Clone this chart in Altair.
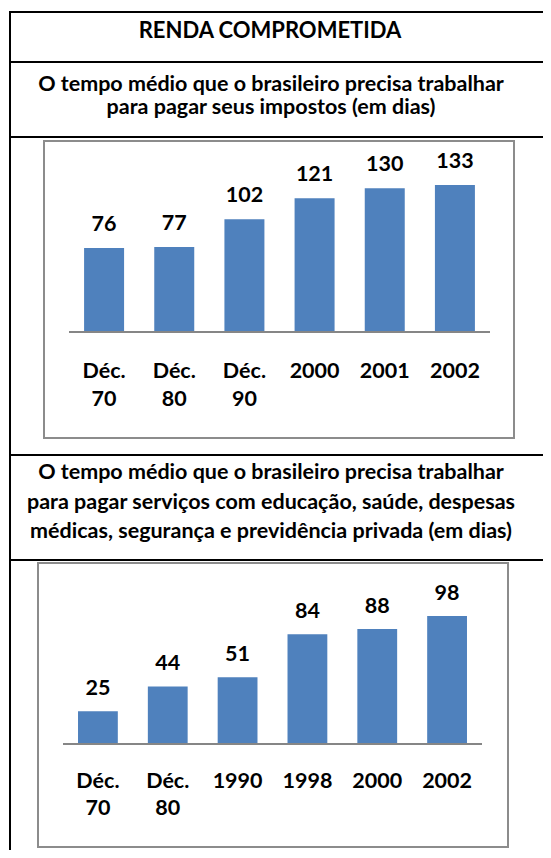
import altair as alt
import pandas as pd

# ---- data ----
cats1 = ["Déc.\n70", "Déc.\n80", "Déc.\n90", "2000", "2001", "2002"]
vals1 = [76, 77, 102, 121, 130, 133]
cats2 = ["Déc.\n70", "Déc.\n80", "1990", "1998", "2000", "2002"]
vals2 = [25, 44, 51, 84, 88, 98]

title_main = "RENDA COMPROMETIDA"
sub1 = ["O tempo médio que o brasileiro precisa trabalhar",
        "para pagar seus impostos (em dias)"]
sub2 = ["O tempo médio que o brasileiro precisa trabalhar",
        "para pagar serviços com educação, saúde, despesas",
        "médicas, segurança e previdência privada (em dias)"]

FONT = "Lato"
BAR = "#4F81BD"
W, H = 535, 842

one = pd.DataFrame({"d": [0]})


def hline(y, color="black", sw=2, x0=2, x1=W):
    return alt.Chart(one).mark_rule(color=color, strokeWidth=sw).encode(
        x=alt.value(x0), x2=alt.value(x1), y=alt.value(y))


def vline(x, y0, y1, color="black", sw=2):
    return alt.Chart(one).mark_rule(color=color, strokeWidth=sw).encode(
        x=alt.value(x), y=alt.value(y0), y2=alt.value(y1))


def box(x0, y0, x1, y1):
    return alt.Chart(one).mark_rect(fill="white", stroke="#8C8C8C", strokeWidth=2).encode(
        x=alt.value(x0), x2=alt.value(x1), y=alt.value(y0), y2=alt.value(y1))


def label(txt, x, y, size=21.5, weight="bold"):
    return alt.Chart(one).mark_text(font=FONT, fontSize=size, fontWeight=weight,
                                    align="center", baseline="alphabetic", color="black").encode(
        x=alt.value(x), y=alt.value(y), text=alt.value(txt))


def bar_panel(cats, vals, xr, y0, pxu, dmax, lab_dy, cat_y, lh):
    df = pd.DataFrame({"cat": cats, "val": vals})
    xs = alt.X("cat:N", sort=cats, axis=None,
               scale=alt.Scale(range=xr, paddingInner=0.43, paddingOuter=0.215))
    ys = alt.Y("val:Q", axis=None,
               scale=alt.Scale(domain=[0, dmax], range=[y0, y0 - dmax * pxu], nice=False))
    base = alt.Chart(df)
    bars = base.mark_bar(color=BAR).encode(x=xs, y=ys)
    vlab = base.mark_text(font=FONT, fontSize=21.5, fontWeight="bold", baseline="alphabetic",
                          dy=lab_dy, color="black").encode(x=xs, y=ys, text="val:Q")
    clab = base.mark_text(font=FONT, fontSize=21.5, fontWeight="bold", baseline="alphabetic",
                          lineBreak="\n", lineHeight=lh, color="black").encode(
        x=xs, y=alt.value(cat_y), text="cat:N")
    axis_line = alt.Chart(one).mark_rule(color="#868686", strokeWidth=2).encode(
        x=alt.value(xr[0]), x2=alt.value(xr[1]), y=alt.value(y0))
    return alt.layer(bars, axis_line, vlab, clab)


decor = [
    box(36, 133, 506, 430),
    box(30, 555, 500, 839),
    hline(4), hline(54), hline(129), hline(447), hline(552),
    vline(2, 3, H),
    label(title_main, 262, 30, size=22),
    label(sub1[0], 263, 83), label(sub1[1], 263, 105.5),
    label(sub2[0], 263, 471), label(sub2[1], 263, 501), label(sub2[2], 263, 530),
]

p1 = bar_panel(cats1, vals1, [61, 482], 324, 1.105, 150, -17, 370, 28)
p2 = bar_panel(cats2, vals2, [55, 474], 736, 1.307, 100, -16, 780, 27)

chart = alt.layer(*decor, p1, p2).resolve_scale(x="independent", y="independent").properties(
    width=W, height=H, padding=0,
    autosize=alt.AutoSizeParams(type="none"),
).configure_view(stroke=None)

chart.save("out.html", embed_options={"renderer": "svg", "actions": False})
